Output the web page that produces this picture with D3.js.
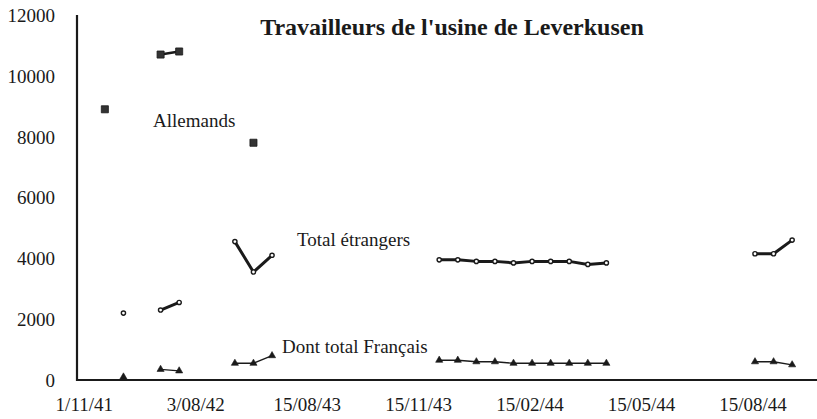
<!DOCTYPE html>
<html>
<head>
<meta charset="utf-8">
<script src="https://cdn.jsdelivr.net/npm/d3@7"></script>
<style>
  html, body { margin: 0; padding: 0; background: #fff; }
  svg, svg text { font-family: "Liberation Serif", "Times New Roman", serif !important; }
</style>
</head>
<body>
<svg id="chart" width="817" height="419"></svg>
<script>
// ---- data ----
const categories = [
  "1/11/41", "1/12/41", "1/01/42", "1/03/42", "1/05/42", "1/07/42",
  "3/08/42", "1/10/42", "1/12/42", "1/02/43", "1/04/43", "1/06/43",
  "15/08/43", "1/09/43", "15/09/43", "1/10/43", "15/10/43", "1/11/43",
  "15/11/43", "1/12/43", "15/12/43", "1/01/44", "15/01/44", "1/02/44",
  "15/02/44", "1/03/44", "15/03/44", "1/04/44", "15/04/44", "1/05/44",
  "15/05/44", "1/06/44", "15/06/44", "1/07/44", "15/07/44", "1/08/44",
  "15/08/44", "1/09/44", "15/09/44", "1/10/44"
];
const tickLabels = ["1/11/41", "3/08/42", "15/08/43", "15/11/43", "15/02/44", "15/05/44", "15/08/44"];
const yTicks = [0, 2000, 4000, 6000, 8000, 10000, 12000];

const allemands = [
  null, 8900, null, null, 10700, 10800, null, null, null, 7800,
  null, null, null, null, null, null, null, null, null, null,
  null, null, null, null, null, null, null, null, null, null,
  null, null, null, null, null, null, null, null, null, null
];
const etrangers = [
  null, null, 2200, null, 2300, 2550, null, null, 4550, 3550,
  4100, null, null, null, null, null, null, null, null, 3950,
  3950, 3900, 3900, 3850, 3900, 3900, 3900, 3800, 3850, null,
  null, null, null, null, null, null, 4150, 4150, 4600, null
];
const francais = [
  null, null, 100, null, 350, 300, null, null, 550, 550,
  800, null, null, null, null, null, null, null, null, 650,
  650, 600, 600, 550, 550, 550, 550, 550, 550, null,
  null, null, null, null, null, null, 600, 600, 500, null
];

const seriesNames = ["Allemands", "Total étrangers", "Dont total Français"];

// ---- layout ----
const svg = d3.select("#chart");
const x = d3.scaleBand().domain(categories).range([77, 820]).padding(0);
const cx = c => x(c) + x.bandwidth() / 2;
const y = d3.scaleLinear().domain([0, 12000]).range([380, 15]);
const ink = "#1a1a1a";
const serif = "Liberation Serif";

// title
svg.append("text")
  .attr("x", 452).attr("y", 35)
  .attr("text-anchor", "middle")
  .style("font-family", serif)
  .attr("font-size", 24).attr("font-weight", "bold")
  .attr("fill", ink)
  .text("Travailleurs de l'usine de Leverkusen");

// y axis
const yAxis = d3.axisLeft(y).tickValues(yTicks).tickSize(0).tickPadding(22).tickFormat(d3.format("d"));
const gy = svg.append("g").attr("transform", "translate(77,0)").call(yAxis)
  .attr("font-family", serif).style("font-family", serif);
gy.select(".domain").remove();
gy.selectAll("text").style("font-family", serif).attr("font-size", 19).attr("fill", ink).attr("dy", "0.34em");

// x axis
const xAxis = d3.axisBottom(x).tickValues(tickLabels).tickSize(0).tickPadding(0);
const gx = svg.append("g").attr("transform", "translate(-2,380)").call(xAxis)
  .attr("font-family", serif).style("font-family", serif);
gx.select(".domain").remove();
gx.selectAll("text").style("font-family", serif).attr("font-size", 19).attr("fill", ink).attr("dy", null).attr("y", 31);

// axis lines
svg.append("line").attr("x1", 77).attr("x2", 77).attr("y1", 15).attr("y2", 381)
  .attr("stroke", ink).attr("stroke-width", 2.2);
svg.append("line").attr("x1", 76).attr("x2", 817).attr("y1", 380).attr("y2", 380)
  .attr("stroke", ink).attr("stroke-width", 2.2);

// helper
function pts(arr) { return categories.map((c, i) => ({ c, v: arr[i] })); }
const line = d3.line().defined(d => d.v != null).x(d => cx(d.c)).y(d => y(d.v));

// Allemands
svg.append("path").datum(pts(allemands)).attr("d", line)
  .attr("fill", "none").attr("stroke", ink).attr("stroke-width", 2.5);
svg.append("g").selectAll("path").data(pts(allemands).filter(d => d.v != null)).join("path")
  .attr("d", d3.symbol(d3.symbolSquare, 50))
  .attr("transform", d => `translate(${cx(d.c)},${y(d.v)})`)
  .attr("fill", "#333").attr("stroke", ink).attr("stroke-width", 0.8);

// Total étrangers
svg.append("path").datum(pts(etrangers)).attr("d", line)
  .attr("fill", "none").attr("stroke", ink).attr("stroke-width", 3).attr("stroke-linejoin", "round");
svg.append("g").selectAll("path").data(pts(etrangers).filter(d => d.v != null)).join("path")
  .attr("d", d3.symbol(d3.symbolCircle, 14))
  .attr("transform", d => `translate(${cx(d.c)},${y(d.v)})`)
  .attr("fill", "#fff").attr("stroke", ink).attr("stroke-width", 1.4);

// Dont total Français
svg.append("path").datum(pts(francais)).attr("d", line)
  .attr("fill", "none").attr("stroke", ink).attr("stroke-width", 1.3);
svg.append("g").selectAll("path").data(pts(francais).filter(d => d.v != null)).join("path")
  .attr("d", d3.symbol(d3.symbolTriangle, 22))
  .attr("transform", d => `translate(${cx(d.c)},${y(d.v)})`)
  .attr("fill", ink).attr("stroke", ink).attr("stroke-width", 0.6);

// series labels
const labelPos = [[153, 127], [297, 246], [282, 353]];
svg.append("g").selectAll("text").data(seriesNames).join("text")
  .attr("x", (d, i) => labelPos[i][0]).attr("y", (d, i) => labelPos[i][1])
  .style("font-family", serif).attr("font-size", 19).attr("fill", ink)
  .text(d => d);
</script>
</body>
</html>
